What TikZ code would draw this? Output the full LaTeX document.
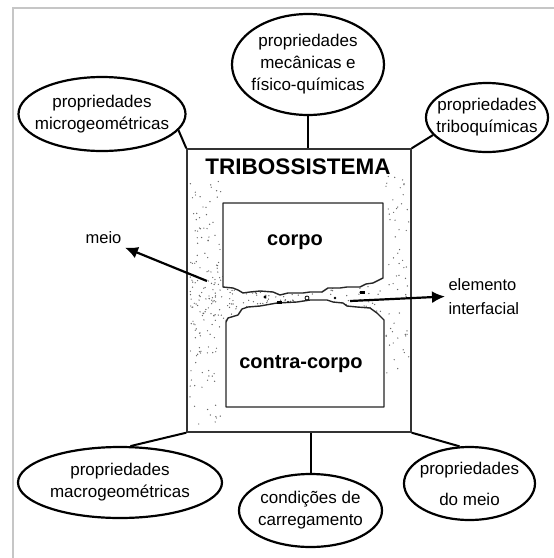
\documentclass[tikz,border=0pt]{standalone}
\usepackage{fontspec}
\setmainfont{Liberation Sans}
\usetikzlibrary{shapes.geometric, arrows.meta, positioning}

\begin{document}
\begin{tikzpicture}[
    x=1pt, y=-1pt,
    every node/.style={font=\fontsize{17}{22}\selectfont, align=center},
    prop/.style={draw, ellipse, line width=2.2pt, inner sep=0pt},
    sysbox/.style={draw=black!80, line width=1.4pt, inner sep=0pt},
    surface/.style={draw=black!85, line width=1.4pt, fill=white, line join=round},
    freelabel/.style={font=\fontsize{16.5}{24}\selectfont},
    bodylabel/.style={font=\bfseries\fontsize{20}{24}\selectfont},
    link/.style={line width=2pt},
    pointer/.style={line width=2.2pt, -{Latex[length=13pt, width=12pt]}},
    grain/.style={fill=black!60}
]
\useasboundingbox (0,0) rectangle (554,558);
\draw[gray!45, line width=1.5pt] (13,558) -- (13,8) -- (554,8);

\node[sysbox, minimum width=224pt, minimum height=283pt] (sistema) at (299,290.5) {};
\node[font=\bfseries\fontsize{22.5}{26}\selectfont] (titulo) at (298,167) {TRIBOSSISTEMA};

\pgfmathsetseed{11}
\foreach \k in {1,...,110}{
    \pgfmathsetmacro\gx{190+31*rnd}\pgfmathsetmacro\gy{180+248*rnd}
    \fill[grain] (\gx,\gy) circle (0.7);
}
\foreach \k in {1,...,70}{
    \pgfmathsetmacro\gx{190+45*rnd}\pgfmathsetmacro\gy{262+70*rnd}
    \fill[grain] (\gx,\gy) circle (0.7);
}
\foreach \k in {1,...,50}{
    \pgfmathsetmacro\gx{386+23*rnd}\pgfmathsetmacro\gy{176+160*rnd}
    \fill[grain] (\gx,\gy) circle (0.7);
}
\foreach \k in {1,...,10}{
    \pgfmathsetmacro\gx{386+23*rnd}\pgfmathsetmacro\gy{336+85*rnd}
    \fill[grain] (\gx,\gy) circle (0.7);
}
\foreach \k in {1,...,140}{
    \pgfmathsetmacro\gx{226+156*rnd}\pgfmathsetmacro\gy{286+34*rnd}
    \fill[grain] (\gx,\gy) circle (0.7);
}

\draw[surface] (223,287) -- (223,203) -- (383,203) -- (383,278) -- (373,283) -- (366,284)
    -- (360,287) -- (347,287) -- (340,288) -- (328,288) -- (322,292) -- (310,292)
    -- (303,293) -- (297,293) -- (288,293) -- (280,295) -- (273,292) -- (260,291)
    -- (250,292) -- (243,293) -- (238,290) -- (233,288) -- cycle;
\draw[surface] (226,322) -- (226,407) -- (384,407) -- (384,320) -- (377,313) -- (370,308)
    -- (357,307) -- (347,306) -- (343,303) -- (333,302) -- (327,300) -- (310,300)
    -- (297,302) -- (277,303) -- (260,306) -- (248,307) -- (242,309) -- (238,315)
    -- (228,318) -- cycle;
\fill[black] (265,297) circle (1.6);
\fill[black] (277,301) rectangle (282,304);
\fill[black] (288,302) circle (1.2);
\draw[black, line width=0.8pt] (307,298) circle (2);
\fill[black] (335,298) circle (1.3);
\fill[black] (360,291) rectangle (365,294);

\node[bodylabel] (corpo) at (295,242) {corpo};
\node[bodylabel] (contra) at (301,364) {contra-corpo};

\node[prop, minimum width=167pt, minimum height=74pt,
    label={center:{propriedades\\microgeométricas}}] (micro) at (102,114) {};
\node[prop, minimum width=152pt, minimum height=101pt,
    label={center:{propriedades\\mecânicas e\\físico-químicas}}] (mec) at (308,64.5) {};
\node[prop, minimum width=122pt, minimum height=69pt,
    label={center:{propriedades\\triboquímicas}}] (triboq) at (487,117.5) {};
\node[prop, minimum width=204pt, minimum height=71pt,
    label={center:{propriedades\\macrogeométricas}}] (macro) at (120,482.5) {};
\node[prop, minimum width=143pt, minimum height=73pt,
    label={center:{condições de\\carregamento}}] (cond) at (310.5,510.5) {};
\node[prop, minimum width=131pt, minimum height=73pt,
    label={center:{propriedades\\[9pt]do meio}}] (domeio) at (469.5,483.5) {};

\draw[link] (micro.-12) -- (sistema.north west);
\draw[link] (mec) -- (mec |- sistema.north);
\draw[link] (triboq.198) -- (sistema.north east);
\draw[link] (macro.74) -- (sistema.south west);
\draw[link] (cond) -- (cond |- sistema.south);
\draw[link] (domeio.105) -- (sistema.south east);

\node[freelabel] (meio) at (103.5,238) {meio};
\node[freelabel, align=left, anchor=west] (elemento) at (445,296.5) {elemento\\interfacial};
\coordinate (meiofonte) at (207,281);
\coordinate (interface) at (350,301);
\draw[pointer] (meiofonte) -- (meio.south east);
\draw[pointer] (interface) -- (elemento.west);
\end{tikzpicture}
\end{document}
